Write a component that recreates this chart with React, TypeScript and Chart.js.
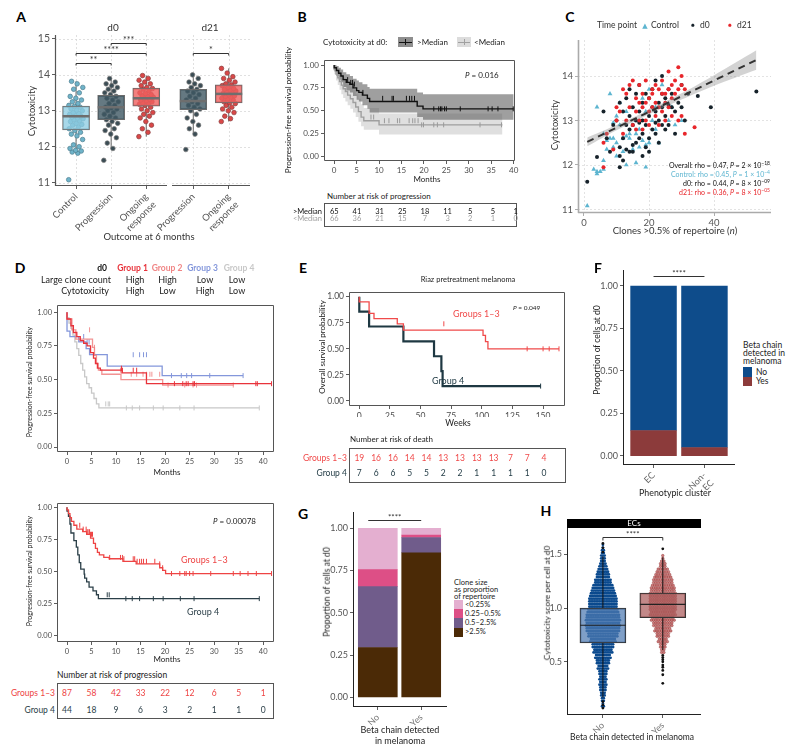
import React, { useEffect, useRef } from 'react';
import { Chart, registerables } from 'chart.js';

Chart.register(...registerables);

const FF = 'Lato, "Open Sans", "DejaVu Sans", sans-serif';
const TICK_C = '#4d4d4d';

/* ================= Panel A data ================= */
const A_D0_LABELS: any[] = ['Control', 'Progression', ['Ongoing', 'response']];
const A_D21_LABELS: any[] = ['Progression', ['Ongoing', 'response']];
const A_Y_TICKS = [11, 12, 13, 14, 15];
const A_CONTROL = [11.08, 11.82, 11.85, 11.88, 11.9, 11.95, 12.0, 12.05, 12.2, 12.3, 12.35, 12.4, 12.45, 12.5, 12.55, 12.6, 12.62, 12.65, 12.7, 12.72, 12.75, 12.78, 12.8, 12.82, 12.85, 12.88, 12.9, 12.92, 12.95, 13.0, 13.02, 13.05, 13.1, 13.12, 13.15, 13.2, 13.25, 13.3, 13.35, 13.4, 13.5, 13.6, 13.65, 13.75, 13.82];
const A_PROG_D0 = [11.62, 11.95, 12.1, 12.25, 12.35, 12.45, 12.5, 12.6, 12.65, 12.7, 12.75, 12.8, 12.85, 12.9, 12.95, 13.0, 13.05, 13.08, 13.1, 13.15, 13.2, 13.25, 13.3, 13.35, 13.4, 13.45, 13.5, 13.55, 13.6, 13.65, 13.7, 13.75, 13.8, 13.9];
const A_ONGO_D0 = [12.28, 12.4, 12.5, 12.6, 12.7, 12.8, 12.85, 12.9, 12.95, 13.0, 13.05, 13.1, 13.15, 13.18, 13.2, 13.22, 13.25, 13.28, 13.3, 13.32, 13.35, 13.38, 13.4, 13.42, 13.45, 13.48, 13.5, 13.55, 13.6, 13.62, 13.65, 13.7, 13.75, 13.8, 13.85, 13.9, 13.98];
const A_PROG_D21 = [11.92, 12.35, 12.5, 12.6, 12.7, 12.8, 12.9, 13.0, 13.05, 13.1, 13.15, 13.2, 13.25, 13.3, 13.35, 13.4, 13.45, 13.5, 13.55, 13.6, 13.65, 13.7, 13.75, 13.8, 13.9, 14.0];
const A_ONGO_D21 = [12.7, 12.78, 12.85, 12.95, 13.0, 13.05, 13.1, 13.15, 13.2, 13.22, 13.25, 13.3, 13.32, 13.35, 13.38, 13.4, 13.42, 13.45, 13.48, 13.5, 13.52, 13.55, 13.58, 13.6, 13.62, 13.65, 13.7, 13.72, 13.75, 13.8, 13.85, 13.9, 13.95, 14.05, 14.18];
// [whisker low, Q1, median, Q3, whisker high]
const A_BOX_D0 = [[11.82, 12.47, 12.85, 13.13, 13.82], [11.95, 12.75, 13.1, 13.43, 13.9], [12.28, 13.13, 13.35, 13.63, 13.98]];
const A_BOX_D21 = [[12.35, 13.03, 13.27, 13.6, 14.0], [12.7, 13.22, 13.47, 13.72, 14.18]];
const A_SIG_D0 = [{ a: 1, b: 2, y: 14.32, label: '**' }, { a: 1, b: 3, y: 14.62, label: '****' }, { a: 2, b: 3, y: 14.9, label: '***' }];
const A_SIG_D21 = [{ a: 1, b: 2, y: 14.62, label: '*' }];

/* ================= Panel B data ================= */
const B_X_TICKS = [0, 5, 10, 15, 20, 25, 30, 35, 40];
const SURV_TICKS = [0, 0.25, 0.5, 0.75, 1];
const B_HI_T = [0, 0.5, 1, 1.5, 2, 2.7, 3.5, 4.2, 5.0, 5.5, 6.3, 7.4, 7.9, 18.5, 19.8, 20.6, 40];
const B_HI_S = [1, 0.97, 0.94, 0.91, 0.88, 0.84, 0.81, 0.79, 0.75, 0.72, 0.70, 0.67, 0.635, 0.60, 0.55, 0.52, 0.52];
const B_HI_UP = [1, 1, 0.99, 0.97, 0.95, 0.92, 0.9, 0.88, 0.85, 0.83, 0.81, 0.79, 0.76, 0.74, 0.7, 0.68, 0.68];
const B_HI_LO = [1, 0.93, 0.88, 0.84, 0.81, 0.76, 0.72, 0.70, 0.66, 0.62, 0.60, 0.56, 0.52, 0.48, 0.43, 0.40, 0.40];
const B_HI_CENS = [3.0, 3.7, 4.1, 4.5, 6.4, 10.8, 12.9, 13.2, 16.1, 16.8, 17.3, 17.9, 22.2, 23.3, 23.7, 24.0, 24.6, 25.0, 28.1, 34.3, 35.2, 36.5, 39.9];
const B_LO_T = [0, 0.4, 0.8, 1.2, 1.6, 2.0, 2.5, 3.0, 3.6, 4.2, 4.8, 5.4, 6.0, 6.6, 10.0, 19.1, 37.5];
const B_LO_S = [1, 0.95, 0.90, 0.86, 0.82, 0.78, 0.74, 0.71, 0.67, 0.63, 0.59, 0.54, 0.49, 0.43, 0.39, 0.345, 0.345];
const B_LO_UP = [1, 1, 0.98, 0.95, 0.92, 0.89, 0.86, 0.83, 0.80, 0.76, 0.73, 0.68, 0.63, 0.57, 0.53, 0.47, 0.47];
const B_LO_LO = [1, 0.9, 0.83, 0.78, 0.73, 0.68, 0.64, 0.6, 0.56, 0.52, 0.48, 0.43, 0.38, 0.33, 0.29, 0.24, 0.24];
const B_LO_CENS = [8.2, 8.8, 11.2, 12.2, 14.1, 14.6, 16.7, 17.5, 18.0, 18.7, 19.5, 19.9, 22.2, 23.0, 24.4, 32.5, 37.3];
const B_RISK_HI = [65, 41, 31, 25, 18, 11, 5, 5, 1];
const B_RISK_LO = [66, 36, 21, 15, 7, 3, 2, 1, 0];

/* ================= Panel C data ================= */
const C_X_TICKS = [0, 20, 40];
const C_Y_TICKS = [11, 12, 13, 14];
const C_CONTROL = [[1, 11.08], [3, 11.9], [4, 11.85], [4, 11.8], [5, 11.85], [6, 12.1], [6, 11.9], [4, 13.3], [6, 12.7], [7, 12.55], [7, 12.35], [8, 12.6], [8, 13.6], [9, 12.4], [9, 12.6], [9, 12.95], [10, 12.5], [10, 13.1], [10, 12.2], [11, 13.4], [11, 12.9], [12, 12.6], [12, 12.3], [13, 12.0], [13, 13.2], [14, 12.6], [14, 12.7], [15, 12.9], [15, 12.35], [16, 12.05], [16, 13.0], [17, 12.4], [17, 12.8], [18, 13.5], [18, 12.55], [19, 11.95], [19, 13.2], [20, 13.7], [20, 12.5], [21, 13.0], [22, 12.8], [23, 12.5], [24, 13.8], [25, 13.4], [26, 13.0], [27, 13.3], [28, 12.9], [30, 13.0], [19, 12.45], [22, 13.3], [13, 12.65], [16, 12.7]];
const C_D0 = [[1, 11.62], [4, 12.18], [6, 13.2], [7, 12.6], [8, 12.3], [9, 12.9], [10, 13.0], [11, 11.95], [11, 12.2], [11, 12.4], [11, 13.4], [12, 12.1], [12, 12.6], [12, 13.2], [13, 12.35], [13, 12.9], [13, 13.5], [14, 12.3], [14, 12.8], [14, 13.1], [14, 13.7], [15, 12.45], [15, 12.9], [15, 13.3], [16, 12.5], [16, 13.0], [16, 13.6], [17, 12.6], [17, 13.2], [17, 13.8], [18, 12.7], [18, 13.0], [18, 13.4], [19, 12.4], [19, 12.9], [19, 13.6], [20, 12.6], [20, 13.1], [20, 13.5], [21, 12.8], [21, 13.3], [21, 13.7], [22, 12.7], [22, 13.2], [22, 13.9], [23, 13.0], [23, 13.4], [23, 12.5], [24, 12.9], [24, 13.6], [24, 14.0], [25, 13.1], [25, 13.5], [25, 12.8], [26, 12.9], [26, 13.7], [27, 13.3], [27, 13.6], [28, 12.7], [28, 13.2], [29, 13.4], [30, 13.3], [30, 13.8], [31, 13.0], [32, 13.6], [35, 13.55], [39, 13.3], [53, 13.65], [20, 12.3], [18, 12.2], [15, 12.3], [24, 13.3], [26, 13.35], [22, 12.95], [17, 12.95]];
const C_D21 = [[6, 11.95], [6, 12.5], [7, 12.7], [9, 12.35], [10, 13.3], [10, 13.0], [11, 13.2], [12, 13.7], [12, 12.7], [13, 13.6], [13, 13.0], [14, 13.8], [14, 13.3], [15, 13.9], [15, 12.9], [16, 13.5], [16, 13.2], [16, 12.8], [17, 13.8], [17, 13.4], [18, 13.3], [18, 13.6], [18, 12.8], [19, 13.4], [19, 13.0], [19, 13.9], [20, 13.5], [20, 13.2], [20, 12.9], [21, 13.3], [21, 13.7], [21, 13.6], [22, 13.8], [22, 13.4], [22, 13.1], [23, 13.7], [23, 13.3], [24, 13.9], [24, 13.6], [24, 13.2], [25, 13.6], [25, 13.4], [25, 13.0], [26, 14.1], [26, 13.7], [26, 13.3], [27, 13.8], [27, 13.5], [27, 13.1], [28, 13.6], [28, 13.9], [29, 13.0], [29, 13.7], [30, 14.0], [30, 13.8], [30, 13.1], [31, 12.7], [31, 13.7], [29, 14.2], [34, 12.85], [23, 12.9], [17, 13.0]];
const C_FIT_X = [1, 53];
const C_FIT_Y = [12.52, 14.36];
const C_BAND_X = [1, 10, 18, 30, 40, 53];
const C_BAND_LO = [12.42, 12.78, 13.07, 13.47, 13.78, 14.14];
const C_BAND_HI = [12.62, 12.9, 13.17, 13.61, 14.02, 14.58];

/* ================= Panel D data ================= */
const D_X_TICKS = [0, 5, 10, 15, 20, 25, 30, 35, 40];
const D_G1_T = [0, 0.8, 1.3, 2.0, 2.7, 3.4, 4.1, 4.8, 5.4, 5.8, 6.2, 6.8, 11.2, 16.2, 19.6, 41.7];
const D_G1_S = [1, 0.95, 0.9, 0.85, 0.82, 0.79, 0.77, 0.75, 0.7, 0.66, 0.62, 0.585, 0.57, 0.55, 0.47, 0.47];
const D_G1_C = [11.1, 11.3, 13.5, 14.2, 21.9, 23.6, 24.3, 24.7, 25.7, 26.0, 38.5, 38.8, 41.7];
const D_G2_T = [0, 1.0, 1.8, 5.2, 5.6, 6.0, 6.4, 7.1, 11.0, 19.5, 20.2, 34];
const D_G2_S = [1, 0.95, 0.87, 0.80, 0.74, 0.68, 0.62, 0.57, 0.54, 0.5, 0.46, 0.46];
const D_G2_C = [4.6, 5.6, 10.9, 13.1, 14.2, 15.5, 16.2, 16.9, 17.3, 18.9, 20.6, 24.0, 25.7, 26.4, 33.9];
const D_G3_T = [0, 0.6, 2.4, 3.9, 4.6, 8.2, 19.4, 20.1, 35.9];
const D_G3_S = [1, 0.86, 0.82, 0.78, 0.73, 0.685, 0.6, 0.53, 0.53];
const D_G3_C = [3.4, 4.1, 4.5, 13.5, 14.8, 15.6, 16.2, 21.3, 23.3, 24.4, 25.4, 29.1, 35.9];
const D_G4_T = [0, 0.4, 0.8, 1.2, 1.6, 2.0, 2.4, 2.8, 3.2, 3.6, 4.0, 4.5, 5.0, 5.5, 6.0, 6.5, 8.9, 39.2];
const D_G4_S = [1, 0.96, 0.92, 0.88, 0.83, 0.78, 0.73, 0.68, 0.62, 0.57, 0.52, 0.47, 0.44, 0.40, 0.36, 0.32, 0.29, 0.29];
const D_G4_C = [7.9, 8.4, 8.7, 12.1, 13.3, 14.8, 17.6, 19.6, 23.0, 25.9, 39.2];
const D_G13_T = [0, 0.3, 0.6, 0.9, 1.4, 2.0, 3.2, 4.0, 4.8, 5.4, 5.8, 6.2, 6.6, 7.5, 8.6, 11.4, 14.1, 18.9, 19.5, 20.1, 20.7, 41.7];
const D_G13_S = [1, 0.98, 0.95, 0.92, 0.89, 0.86, 0.83, 0.81, 0.79, 0.76, 0.72, 0.68, 0.65, 0.63, 0.61, 0.60, 0.58, 0.56, 0.53, 0.51, 0.485, 0.485];
const D_G13_C = [2.6, 3.3, 3.9, 4.1, 4.3, 4.6, 4.8, 5.0, 5.2, 8.7, 10.9, 11.3, 11.6, 13.5, 13.8, 14.3, 14.8, 15.2, 15.6, 16.2, 17.9, 18.9, 19.5, 21.3, 23.0, 24.0, 24.3, 25.0, 25.7, 29.3, 33.9, 35.3, 36.9, 38.6, 41.7];
const D_G4B_T = [0, 0.3, 0.6, 0.8, 1.4, 1.9, 2.2, 2.5, 2.8, 3.5, 3.6, 4.0, 4.5, 5.3, 6.0, 6.4, 8.8, 39.2];
const D_G4B_S = [1, 0.97, 0.93, 0.87, 0.8, 0.74, 0.69, 0.63, 0.57, 0.52, 0.48, 0.45, 0.42, 0.38, 0.35, 0.32, 0.29, 0.29];
const D_G4B_C = [8.2, 8.6, 12.0, 13.3, 14.8, 17.6, 19.6, 23.1, 25.9, 39.2];
const D_RISK_G13 = [87, 58, 42, 33, 22, 12, 6, 5, 1];
const D_RISK_G4 = [44, 18, 9, 6, 3, 2, 1, 1, 0];
const D_GROUPS = ['Group 1', 'Group 2', 'Group 3', 'Group 4'];
const D_CLONE = ['High', 'High', 'Low', 'Low'];
const D_CYTO = ['High', 'Low', 'High', 'Low'];

/* ================= Panel E data ================= */
const E_X_TICKS = [0, 25, 50, 75, 100, 125, 150];
const E_G13_T = [0, 8, 12, 31, 36, 101, 103, 105, 120, 163];
const E_G13_S = [1, 0.95, 0.84, 0.79, 0.74, 0.68, 0.63, 0.57, 0.50, 0.50];
const E_G13_C = [69, 137, 150, 155, 163];
const E_G4_T = [0, 8, 36, 61, 67, 68, 92, 148];
const E_G4_S = [1, 0.857, 0.714, 0.571, 0.429, 0.286, 0.143, 0.143];
const E_G4_C = [148];
const E_RISK_G13 = [19, 16, 16, 14, 14, 13, 13, 13, 13, 7, 7, 4];
const E_RISK_G4 = [7, 6, 6, 5, 5, 2, 2, 1, 1, 1, 1, 0];

/* ================= Panel F data ================= */
const F_LABELS: any[] = ['EC', ['Non-', 'EC']];
const F_YES = [0.15, 0.05];
const F_NO = [0.85, 0.95];

/* ================= Panel G data ================= */
const G_LABELS: any[] = ['No', 'Yes'];
const G_GT25 = [0.295, 0.855];
const G_05_25 = [0.36, 0.09];
const G_025_05 = [0.10, 0.015];
const G_LT025 = [0.245, 0.04];
const G_KEYS = ['<0.25%', '0.25\u20130.5%', '0.5\u20132.5%', '>2.5%'];

/* ================= Panel H data ================= */
const H_LABELS: any[] = ['No', 'Yes'];
const H_Y_TICKS = [0.5, 1.0, 1.5];
const H_NO_BINS = [0.10, 0.15, 0.20, 0.25, 0.30, 0.35, 0.40, 0.45, 0.50, 0.55, 0.60, 0.65, 0.70, 0.75, 0.80, 0.85, 0.90, 0.95, 1.00, 1.05, 1.10, 1.15, 1.20, 1.25, 1.30, 1.35, 1.40, 1.45, 1.50, 1.55, 1.60];
const H_NO_COUNTS = [3, 4, 6, 8, 9, 9, 10, 13, 16, 19, 23, 26, 31, 36, 40, 41, 41, 39, 35, 34, 33, 29, 25, 20, 16, 13, 9, 6, 5, 3, 1];
const H_YES_BINS = [0.60, 0.65, 0.70, 0.75, 0.80, 0.85, 0.90, 0.95, 1.00, 1.05, 1.10, 1.15, 1.20, 1.25, 1.30, 1.35, 1.40, 1.45, 1.50];
const H_YES_COUNTS = [4, 6, 9, 12, 15, 18, 21, 23, 24, 24, 24, 23, 21, 18, 15, 11, 6, 3, 1];
const H_NO_OUT = [0.07, 0.1, 0.13, 1.52, 1.56, 1.6];
const H_YES_OUT = [0.30, 0.38, 0.42, 0.45, 0.47, 0.5, 0.52, 0.54, 0.56, 1.55];
const H_BOX = [[0.17, 0.675, 0.84, 1.0, 1.48], [0.61, 0.91, 1.035, 1.14, 1.47]];

/* ================= layout rects ================= */
const A0_C = { x: 0, y: 30, w: 172, h: 210 }, A0_P = { l: 55, t: 35, r: 168, b: 186 };
const A1_C = { x: 110, y: 30, w: 145, h: 210 }, A1_P = { l: 172, t: 35, r: 250, b: 186 };
const A_Y = { min: 10.905, max: 15.11 };
const B_C = { x: 270, y: 55, w: 250, h: 130 }, B_P = { l: 324, t: 60, r: 517, b: 161 };
const B_X = { min: -2.27, max: 40.3 }, B_Y = { min: -0.051, max: 1.055 };
const C_C = { x: 548, y: 35, w: 227, h: 193 }, C_P = { l: 578, t: 40, r: 772, b: 213 };
const C_X = { min: -1.84, max: 57.5 }, C_Y = { min: 10.92, max: 14.81 };
const D1_C = { x: 0, y: 300, w: 280, h: 168 }, D1_P = { l: 57, t: 305, r: 274, b: 452 };
const D2_C = { x: 0, y: 498, w: 280, h: 158 }, D2_P = { l: 57, t: 503, r: 274, b: 642 };
const D_X = { min: -2.04, max: 42.2 }, D1_Y = { min: -0.037, max: 1.054 }, D2_Y = { min: -0.047, max: 1.033 };
const E_C = { x: 290, y: 287, w: 280, h: 130 }, E_P = { l: 349, t: 292, r: 566, b: 406 };
const E_X = { min: -8.4, max: 167.9 }, E_Y = { min: -0.048, max: 1.045 };
const F_C = { x: 590, y: 265, w: 150, h: 225 }, F_P = { l: 623, t: 270, r: 735, b: 465 };
const F_X = { min: 0.4, max: 2.6 }, F_Y = { min: -0.053, max: 1.094 };
const G_C = { x: 320, y: 507, w: 132, h: 218 }, G_P = { l: 353, t: 512, r: 447, b: 707 };
const G_X = { min: 0.429, max: 2.594 }, G_Y = { min: -0.057, max: 1.096 };
const H_C = { x: 535, y: 523, w: 170, h: 210 }, H_P = { l: 567, t: 528, r: 701, b: 715 };
const H_X = { min: 0.4, max: 2.63 }, H_Y = { min: 0.006, max: 1.744 };

/* ================= helpers ================= */
const lin = (v: number, a0: number, a1: number, p0: number, p1: number) => p0 + ((v - a0) / (a1 - a0)) * (p1 - p0);

function axis(min: number, max: number, ticks: number[], fmt: (v: number) => any, o: any = {}) {
  const marks = o.marks !== false;
  return {
    type: 'linear', min, max, bounds: 'data', offset: false, beginAtZero: false,
    grid: { display: marks, offset: false, drawOnChartArea: false, drawTicks: marks, tickLength: o.tickLen ?? 3, color: o.tickColor ?? '#333', lineWidth: 0.8 },
    border: { display: false },
    ticks: {
      display: o.labels !== false, autoSkip: false, minRotation: o.rot ?? 0, maxRotation: o.rot ?? 0,
      padding: o.pad ?? 2, color: o.color ?? TICK_C, font: { family: FF, size: o.size ?? 8 },
      callback: (v: number) => fmt(v),
    },
    afterBuildTicks: (s: any) => { s.ticks = ticks.map((v) => ({ value: v })); },
  };
}
const fix = (kind: string, size: number) => (s: any) => {
  if (kind === 'x') s.height = size; else s.width = size;
  s.paddingLeft = 0; s.paddingRight = 0; s.paddingTop = 0; s.paddingBottom = 0;
};
const catFmt = (labels: any[]) => (v: number) => labels[Math.round(v) - 1] ?? '';

function deco(o: any) {
  return {
    id: 'deco',
    beforeDatasetsDraw(chart: any) {
      const { ctx, chartArea: ca, scales } = chart;
      if (!o.grid) return;
      ctx.save();
      ctx.strokeStyle = o.grid.color || '#d9d9d9';
      ctx.lineWidth = 0.8;
      ctx.setLineDash([2, 2]);
      (o.grid.xs || []).forEach((v: number) => {
        const p = Math.round(scales.x.getPixelForValue(v)) + 0.5;
        ctx.beginPath(); ctx.moveTo(p, ca.top); ctx.lineTo(p, ca.bottom); ctx.stroke();
      });
      (o.grid.ys || []).forEach((v: number) => {
        const p = Math.round(scales.y.getPixelForValue(v)) + 0.5;
        ctx.beginPath(); ctx.moveTo(ca.left, p); ctx.lineTo(ca.right, p); ctx.stroke();
      });
      ctx.restore();
    },
    afterDatasetsDraw(chart: any) {
      const { ctx, chartArea: ca, scales } = chart;
      ctx.save();
      if (o.frame) {
        ctx.strokeStyle = o.frameColor || '#4d4d4d';
        ctx.lineWidth = o.frameWidth || 1;
        const L = Math.round(ca.left) + 0.5, R = Math.round(ca.right) - 0.5, Tp = Math.round(ca.top) + 0.5, B = Math.round(ca.bottom) - 0.5;
        ctx.beginPath();
        if (o.frame === 'box') ctx.rect(L, Tp, R - L, B - Tp);
        else {
          if (o.frame.includes('l')) { ctx.moveTo(L, Tp - 0.5); ctx.lineTo(L, B + 0.5); }
          if (o.frame.includes('b')) { ctx.moveTo(L - 0.5, B); ctx.lineTo(R + 0.5, B); }
        }
        ctx.stroke();
      }
      (o.brackets || []).forEach((b: any) => {
        const x1 = scales.x.getPixelForValue(b.a), x2 = scales.x.getPixelForValue(b.b);
        const py = Math.round(scales.y.getPixelForValue(b.y)) + 0.5;
        const drop = o.drop ?? 0;
        ctx.strokeStyle = '#333'; ctx.lineWidth = 1; ctx.setLineDash([]);
        ctx.beginPath(); ctx.moveTo(x1, py + drop); ctx.lineTo(x1, py); ctx.lineTo(x2, py); ctx.lineTo(x2, py + drop); ctx.stroke();
        ctx.fillStyle = '#333'; ctx.font = `${o.starSize || 8}px ${FF}`; ctx.textAlign = 'center'; ctx.textBaseline = 'middle';
        ctx.fillText(b.label, (x1 + x2) / 2, py + (o.raise ?? -1));
      });
      ctx.restore();
    },
  };
}

function cfg(canvas: any, plot: any, x: any, y: any, datasets: any[], decoOpts: any) {
  return {
    type: 'scatter',
    data: { datasets },
    options: {
      responsive: false, maintainAspectRatio: false, animation: false, devicePixelRatio: 1, events: [],
      layout: { padding: { top: plot.t - canvas.y, right: canvas.x + canvas.w - plot.r, left: 0, bottom: 0 } },
      plugins: { legend: { display: false }, tooltip: { enabled: false } },
      scales: {
        x: { ...x, afterFit: fix('x', canvas.y + canvas.h - plot.b) },
        y: { ...y, afterFit: fix('y', plot.l - canvas.x) },
      },
    },
    plugins: [deco(decoOpts)],
  };
}

function survAt(ts: number[], ss: number[], t: number) {
  let s = ss[0];
  for (let i = 0; i < ts.length; i++) if (ts[i] <= t) s = ss[i];
  return s;
}
function kmLine(ts: number[], ss: number[], color: string, w: number, order: number) {
  return { type: 'line', data: ts.map((t, i) => ({ x: t, y: ss[i] })), stepped: 'after', borderColor: color, borderWidth: w, pointRadius: 0, fill: false, order };
}
function kmCens(ts: number[], ss: number[], cs: number[], color: string, order: number, r = 2.5) {
  return {
    type: 'scatter', data: cs.map((t) => ({ x: t, y: survAt(ts, ss, t) })), pointStyle: 'line', pointRotation: 90,
    pointRadius: r, pointBorderColor: color, pointBorderWidth: 1, borderColor: color, order,
  };
}
function kmBand(ts: number[], hi: number[], lo: number[], color: string, order: number) {
  return [
    { type: 'line', data: ts.map((t, i) => ({ x: t, y: hi[i] })), stepped: 'after', borderColor: 'transparent', borderWidth: 0, pointRadius: 0, fill: '+1', backgroundColor: color, order },
    { type: 'line', data: ts.map((t, i) => ({ x: t, y: lo[i] })), stepped: 'after', borderColor: 'transparent', borderWidth: 0, pointRadius: 0, fill: false, order },
  ];
}
function boxSets(boxes: number[][], fills: string[], barPx: number, halfW: number, medColor: string, medW: number, border: string, whisk: string) {
  const ds: any[] = [];
  boxes.forEach((b, i) => {
    ds.push({ type: 'line', data: [{ x: i + 1 - halfW, y: b[2] }, { x: i + 1 + halfW, y: b[2] }], borderColor: medColor, borderWidth: medW, pointRadius: 0, order: 0 });
  });
  ds.push({
    type: 'bar', data: boxes.map((b, i) => ({ x: i + 1, y: [b[1], b[3]] })), backgroundColor: fills, borderColor: border,
    borderWidth: 1, borderSkipped: false, barThickness: barPx, grouped: false, order: 1,
  });
  boxes.forEach((b, i) => {
    ds.push({ type: 'line', data: [{ x: i + 1, y: b[0] }, { x: i + 1, y: b[1] }], borderColor: whisk, borderWidth: 1, pointRadius: 0, order: 2.5 });
    ds.push({ type: 'line', data: [{ x: i + 1, y: b[3] }, { x: i + 1, y: b[4] }], borderColor: whisk, borderWidth: 1, pointRadius: 0, order: 2.5 });
  });
  return ds;
}
function jitterPts(cx: number, vals: number[], spread: number) {
  return vals.map((v, k) => ({ x: cx + (((k * 0.618034) % 1) - 0.5) * spread, y: v }));
}
function swarm(cx: number, bins: number[], counts: number[], dx: number, dy: number) {
  const pts: any[] = [];
  bins.forEach((v, j) => {
    const n = counts[j];
    const r1 = Math.ceil(n / 2), r2 = n - r1;
    [r1, r2].forEach((k, rr) => {
      for (let m = 0; m < k; m++) pts.push({ x: cx + (m - (k - 1) / 2) * dx, y: v + (rr === 0 ? -dy : dy) });
    });
  });
  return pts;
}

/* ================= chart factories ================= */
const A_FILL = ['rgba(142,205,227,0.78)', 'rgba(62,88,99,0.8)', 'rgba(240,96,95,0.8)'];
const A_PT_BG = ['#6fb3c9', '#3b4d55', '#d94848'];
const A_PT_BC = ['#4d7e8f', '#7a7a7a', '#8a4040'];

function makeA0() {
  const pxu = (A0_P.r - A0_P.l) / (3.6 - 0.4);
  const groups = [A_CONTROL, A_PROG_D0, A_ONGO_D0];
  const pts = groups.map((g, i) => ({
    type: 'scatter', data: jitterPts(i + 1, g, 0.42), pointRadius: 2.3, pointBackgroundColor: A_PT_BG[i], pointBorderColor: A_PT_BC[i], pointBorderWidth: 0.7, order: 2,
  }));
  return cfg(A0_C, A0_P,
    axis(0.4, 3.6, [1, 2, 3], catFmt(A_D0_LABELS), { rot: 45, size: 9.5, color: '#555' }),
    axis(A_Y.min, A_Y.max, A_Y_TICKS, (v) => String(v), { size: 10.5, color: '#555' }),
    [...boxSets(A_BOX_D0, A_FILL, 27, 13.5 / pxu, '#6e6e6e', 2.5, '#6a6a6a', '#666'), ...pts],
    { grid: { xs: [1, 2, 3], ys: A_Y_TICKS }, frame: 'lb', frameColor: '#555', frameWidth: 1.2, brackets: A_SIG_D0, drop: 2, starSize: 9, raise: -3 });
}
function makeA1() {
  const pxu = (A1_P.r - A1_P.l) / (2.6 - 0.4);
  const groups = [A_PROG_D21, A_ONGO_D21];
  const pts = groups.map((g, i) => ({
    type: 'scatter', data: jitterPts(i + 1, g, 0.42), pointRadius: 2.3, pointBackgroundColor: A_PT_BG[i + 1], pointBorderColor: A_PT_BC[i + 1], pointBorderWidth: 0.7, order: 2,
  }));
  return cfg(A1_C, A1_P,
    axis(0.4, 2.6, [1, 2], catFmt(A_D21_LABELS), { rot: 45, size: 9.5, color: '#555' }),
    axis(A_Y.min, A_Y.max, A_Y_TICKS, () => '', { labels: false, marks: false }),
    [...boxSets(A_BOX_D21, A_FILL.slice(1), 27, 13.5 / pxu, '#6e6e6e', 2.5, '#6a6a6a', '#666'), ...pts],
    { grid: { xs: [1, 2], ys: A_Y_TICKS }, frame: 'b', frameColor: '#555', frameWidth: 1.2, brackets: A_SIG_D21, drop: 2, starSize: 9, raise: -3 });
}
function makeB() {
  return cfg(B_C, B_P,
    axis(B_X.min, B_X.max, B_X_TICKS, (v) => String(v), { size: 8 }),
    axis(B_Y.min, B_Y.max, SURV_TICKS, (v) => v.toFixed(2), { size: 8 }),
    [
      kmCens(B_HI_T, B_HI_S, B_HI_CENS, '#111', 0),
      kmCens(B_LO_T, B_LO_S, B_LO_CENS, '#9a9a9a', 0.5),
      kmLine(B_HI_T, B_HI_S, '#111', 1.4, 1),
      kmLine(B_LO_T, B_LO_S, '#9f9f9f', 1.4, 1.5),
      ...kmBand(B_HI_T, B_HI_UP, B_HI_LO, 'rgba(95,95,95,0.6)', 5),
      ...kmBand(B_LO_T, B_LO_UP, B_LO_LO, 'rgba(185,185,185,0.45)', 6),
    ],
    { frame: 'box', frameColor: '#555' });
}
function makeC() {
  const xy = (arr: number[][]) => arr.map((p) => ({ x: p[0], y: p[1] }));
  return cfg(C_C, C_P,
    axis(C_X.min, C_X.max, C_X_TICKS, (v) => String(v), { size: 9.5, pad: 1, color: '#555', tickColor: '#999' }),
    axis(C_Y.min, C_Y.max, C_Y_TICKS, (v) => String(v), { size: 9.5, color: '#555', tickColor: '#999' }),
    [
      { type: 'line', data: C_FIT_X.map((x, i) => ({ x, y: C_FIT_Y[i] })), borderColor: '#333', borderWidth: 2, borderDash: [7, 5], pointRadius: 0, order: 0 },
      { type: 'line', data: C_BAND_X.map((x, i) => ({ x, y: C_BAND_HI[i] })), borderColor: 'transparent', borderWidth: 0, pointRadius: 0, fill: '+1', backgroundColor: 'rgba(140,140,140,0.38)', tension: 0.3, order: 1 },
      { type: 'line', data: C_BAND_X.map((x, i) => ({ x, y: C_BAND_LO[i] })), borderColor: 'transparent', borderWidth: 0, pointRadius: 0, fill: false, tension: 0.3, order: 1 },
      { type: 'scatter', data: xy(C_D21), pointRadius: 2, pointBackgroundColor: '#e8262b', pointBorderWidth: 0, order: 2 },
      { type: 'scatter', data: xy(C_D0), pointRadius: 2, pointBackgroundColor: '#16222a', pointBorderWidth: 0, order: 3 },
      { type: 'scatter', data: xy(C_CONTROL), pointStyle: 'triangle', pointRadius: 2.8, pointBackgroundColor: '#5db5d0', pointBorderWidth: 0, order: 4 },
    ],
    { grid: { xs: C_X_TICKS, ys: C_Y_TICKS, color: '#dcdcdc' }, frame: 'lb', frameColor: '#aaa', frameWidth: 1.6 });
}
function makeD1() {
  return cfg(D1_C, D1_P,
    axis(D_X.min, D_X.max, D_X_TICKS, (v) => String(v), { size: 7.5 }),
    axis(D1_Y.min, D1_Y.max, SURV_TICKS, (v) => v.toFixed(2), { size: 7.5 }),
    [
      kmCens(D_G1_T, D_G1_S, D_G1_C, '#e8333b', 0),
      kmLine(D_G1_T, D_G1_S, '#e8333b', 1.3, 0.5),
      kmCens(D_G2_T, D_G2_S, D_G2_C, 'rgba(240,128,128,0.85)', 1),
      kmLine(D_G2_T, D_G2_S, 'rgba(240,128,128,0.85)', 1.3, 1.5),
      kmCens(D_G3_T, D_G3_S, D_G3_C, '#8497db', 2),
      kmLine(D_G3_T, D_G3_S, '#8497db', 1.3, 2.5),
      kmCens(D_G4_T, D_G4_S, D_G4_C, '#c8c8c8', 3),
      kmLine(D_G4_T, D_G4_S, '#c8c8c8', 1.3, 3.5),
    ],
    { frame: 'box', frameColor: '#555' });
}
function makeD2() {
  return cfg(D2_C, D2_P,
    axis(D_X.min, D_X.max, D_X_TICKS, (v) => String(v), { size: 7.5 }),
    axis(D2_Y.min, D2_Y.max, SURV_TICKS, (v) => v.toFixed(2), { size: 7.5 }),
    [
      kmCens(D_G13_T, D_G13_S, D_G13_C, '#ee4444', 0),
      kmLine(D_G13_T, D_G13_S, '#ee4444', 1.3, 0.5),
      kmCens(D_G4B_T, D_G4B_S, D_G4B_C, '#2b3f48', 1),
      kmLine(D_G4B_T, D_G4B_S, '#2b3f48', 1.3, 1.5),
    ],
    { frame: 'box', frameColor: '#555' });
}
function makeE() {
  return cfg(E_C, E_P,
    axis(E_X.min, E_X.max, E_X_TICKS, (v) => String(v), { size: 8.5 }),
    axis(E_Y.min, E_Y.max, SURV_TICKS, (v) => v.toFixed(2), { size: 8.5 }),
    [
      kmCens(E_G13_T, E_G13_S, E_G13_C, '#f04a4a', 0),
      kmLine(E_G13_T, E_G13_S, '#f04a4a', 1.3, 0.5),
      kmCens(E_G4_T, E_G4_S, E_G4_C, '#1e3842', 1),
      kmLine(E_G4_T, E_G4_S, '#1e3842', 2.2, 1.5),
    ],
    { frame: 'box', frameColor: '#555' });
}
function makeF() {
  return cfg(F_C, F_P,
    axis(F_X.min, F_X.max, [1, 2], catFmt(F_LABELS), { rot: 45, size: 9, color: '#666' }),
    axis(F_Y.min, F_Y.max, SURV_TICKS, (v) => v.toFixed(2), { size: 9, color: '#555' }),
    [
      { type: 'bar', data: F_YES.map((v, i) => ({ x: i + 1, y: [0, v] })), backgroundColor: '#8c3b3b', barThickness: 45.8, grouped: false, borderSkipped: false, borderWidth: 0 },
      { type: 'bar', data: F_NO.map((v, i) => ({ x: i + 1, y: [F_YES[i], F_YES[i] + v] })), backgroundColor: '#0e4c8b', barThickness: 45.8, grouped: false, borderSkipped: false, borderWidth: 0 },
    ],
    { frame: 'lb', frameColor: '#222', frameWidth: 1, brackets: [{ a: 1, b: 2, y: 1.059, label: '****' }], drop: 0, starSize: 8, raise: -3 });
}
function makeG() {
  const series = [G_GT25, G_05_25, G_025_05, G_LT025];
  const colors = ['#4b2a06', '#705c8b', '#dd4f86', '#e4afd0'];
  const ds = series.map((s, k) => ({
    type: 'bar',
    data: s.map((v, i) => {
      const lo = series.slice(0, k).reduce((acc, ss) => acc + ss[i], 0);
      return { x: i + 1, y: [lo, lo + v] };
    }),
    backgroundColor: colors[k], barThickness: 39, grouped: false, borderSkipped: false, borderWidth: 0,
  }));
  return cfg(G_C, G_P,
    axis(G_X.min, G_X.max, [1, 2], catFmt(G_LABELS), { rot: 45, size: 9, color: '#777' }),
    axis(G_Y.min, G_Y.max, SURV_TICKS, (v) => v.toFixed(2), { size: 9, color: '#555' }),
    ds,
    { frame: 'lb', frameColor: '#222', frameWidth: 1, brackets: [{ a: 0.78, b: 2.0, y: 1.049, label: '****' }], drop: 0, starSize: 8, raise: -3 });
}
function makeH() {
  const pxu = (H_P.r - H_P.l) / (H_X.max - H_X.min);
  return cfg(H_C, H_P,
    axis(H_X.min, H_X.max, [1, 2], catFmt(H_LABELS), { rot: 45, size: 9, color: '#777' }),
    axis(H_Y.min, H_Y.max, H_Y_TICKS, (v) => v.toFixed(1), { size: 9, color: '#555' }),
    [
      ...boxSets(H_BOX, ['rgba(78,122,178,0.72)', 'rgba(170,92,92,0.72)'], 46, 23 / pxu, '#222', 1.2, '#333', '#111'),
      { type: 'scatter', data: [...H_NO_OUT.map((v) => ({ x: 1, y: v })), ...H_YES_OUT.map((v) => ({ x: 2, y: v }))], pointRadius: 1.4, pointBackgroundColor: '#111', pointBorderWidth: 0, order: 2 },
      { type: 'scatter', data: swarm(1, H_NO_BINS, H_NO_COUNTS, 1.7 / pxu, 0.0125), pointRadius: 1.4, pointBackgroundColor: '#0b4a8e', pointBorderWidth: 0, order: 3 },
      { type: 'scatter', data: swarm(2, H_YES_BINS, H_YES_COUNTS, 2.3 / pxu, 0.0125), pointRadius: 1.3, pointBackgroundColor: 'rgba(200,105,105,0.85)', pointBorderColor: 'rgba(140,50,50,0.85)', pointBorderWidth: 0.5, order: 4 },
    ],
    { frame: 'lb', frameColor: '#222', frameWidth: 1, brackets: [{ a: 1, b: 2, y: 1.66, label: '****' }], drop: 3, starSize: 8, raise: -3 });
}

/* ================= React pieces ================= */
function ChartBox({ rect, make }: any) {
  const ref = useRef<HTMLCanvasElement | null>(null);
  useEffect(() => {
    const c = ref.current;
    if (!c) return;
    const chart = new Chart(c, make());
    return () => chart.destroy();
  }, []);
  return <canvas ref={ref} width={rect.w} height={rect.h} style={{ position: 'absolute', left: rect.x, top: rect.y, width: rect.w, height: rect.h }} />;
}

function T({ x, y, s = 8, c = '#333', a = 'start', b = false, r = 0, i = false, children, lh = 1 }: any) {
  const tx = a === 'start' ? '0' : a === 'middle' ? '-50%' : '-100%';
  return (
    <div style={{
      position: 'absolute', left: x, top: y, transform: `translate(${tx}, -50%)${r ? ` rotate(${r}deg)` : ''}`,
      fontFamily: FF, fontSize: s, color: c, fontWeight: b ? 700 : 400, fontStyle: i ? 'italic' : 'normal',
      whiteSpace: 'nowrap', lineHeight: lh, textAlign: a === 'end' ? 'right' : a === 'middle' ? 'center' : 'left',
    }}>{children}</div>
  );
}
const Box = ({ x, y, w, h, bg, border }: any) => (
  <div style={{ position: 'absolute', left: x, top: y, width: w, height: h, background: bg || 'transparent', border: border || 'none', boxSizing: 'border-box' }} />
);

function RiskTable({ box, rowY, labels, colors, rows, xs, size }: any) {
  return (
    <>
      <Box x={box.l} y={box.t} w={box.r - box.l} h={box.b - box.t} border="1px solid #555" />
      {rows.map((row: number[], ri: number) => (
        <React.Fragment key={ri}>
          <T x={box.l - 2} y={rowY[ri]} a="end" s={size} c={colors[ri]}>{labels[ri]}</T>
          {row.map((v, ci) => <T key={ci} x={xs[ci]} y={rowY[ri]} a="middle" s={size} c={colors[ri]}>{v}</T>)}
        </React.Fragment>
      ))}
    </>
  );
}

export default function App() {
  useEffect(() => { document.body.style.margin = '0'; }, []);
  const bXs = B_X_TICKS.map((m) => lin(m, B_X.min, B_X.max, B_P.l, B_P.r));
  const dXs = D_X_TICKS.map((m) => lin(m, D_X.min, D_X.max, D1_P.l, D1_P.r));
  const eXs = E_RISK_G13.map((_, i) => lin((i * 150) / 11, E_X.min, E_X.max, E_P.l, E_P.r));
  const dCenters = [132.5, 167, 202.5, 239];
  const dVals = [135, 167.5, 205, 237];
  const dColors = ['#e8333b', '#f08585', '#8497db', '#c8c8c8'];
  const gColors = ['#e4afd0', '#dd4f86', '#705c8b', '#4b2a06'];
  return (
    <div style={{ position: 'absolute', left: 0, top: 0, width: 800, height: 753, background: '#fff', overflow: 'hidden', fontFamily: FF }}>
      <ChartBox rect={A0_C} make={makeA0} />
      <ChartBox rect={A1_C} make={makeA1} />
      <ChartBox rect={B_C} make={makeB} />
      <ChartBox rect={C_C} make={makeC} />
      <ChartBox rect={D1_C} make={makeD1} />
      <ChartBox rect={D2_C} make={makeD2} />
      <ChartBox rect={E_C} make={makeE} />
      <ChartBox rect={F_C} make={makeF} />
      <ChartBox rect={G_C} make={makeG} />
      <ChartBox rect={H_C} make={makeH} />

      {/* panel letters */}
      <T x={21} y={17} a="middle" s={14} b c="#000">A</T>
      <T x={302} y={17} a="middle" s={14} b c="#000">B</T>
      <T x={570} y={17} a="middle" s={14} b c="#000">C</T>
      <T x={20} y={268} a="middle" s={14} b c="#000">D</T>
      <T x={303} y={268} a="middle" s={14} b c="#000">E</T>
      <T x={598} y={268} a="middle" s={14} b c="#000">F</T>
      <T x={303} y={514} a="middle" s={14} b c="#000">G</T>
      <T x={546} y={511} a="middle" s={14} b c="#000">H</T>

      {/* A */}
      <T x={113} y={27} a="middle" s={10} c="#333">d0</T>
      <T x={210} y={27} a="middle" s={10} c="#333">d21</T>
      <T x={32} y={111} a="middle" r={-90} s={9.5} c="#333">Cytotoxicity</T>
      <T x={149} y={237} a="middle" s={9.5} c="#333">Outcome at 6 months</T>

      {/* B */}
      <T x={323} y={42} s={8} c="#222">Cytotoxicity at d0:</T>
      <Box x={398} y={37} w={15} h={10} bg="#8e8e8e" />
      <Box x={399} y={41.5} w={13} h={1.5} bg="#111" />
      <Box x={405} y={39} w={1} h={6} bg="#111" />
      <T x={417} y={42} s={8} c="#222">{'>Median'}</T>
      <Box x={457} y={37} w={14} h={10} bg="#dcdcdc" />
      <Box x={458} y={41.5} w={12} h={1.5} bg="#a0a0a0" />
      <Box x={463.5} y={39} w={1} h={6} bg="#a0a0a0" />
      <T x={474} y={42} s={8} c="#222">{'<Median'}</T>
      <T x={465} y={75} s={8} c="#222"><i>P</i> = 0.016</T>
      <T x={288} y={110} a="middle" r={-90} s={8} c="#222">Progression-free survival probability</T>
      <T x={427} y={179} a="middle" s={8} c="#222">Months</T>
      <T x={327} y={196} s={8} c="#222">Number at risk of progression</T>
      <RiskTable box={{ l: 324, t: 203, r: 517, b: 227 }} rowY={[212, 219]} labels={['>Median', '<Median']} colors={['#111', '#a0a0a0']} rows={[B_RISK_HI, B_RISK_LO]} xs={bXs} size={7.5} />

      {/* C */}
      <T x={597} y={25} s={8.5} c="#333">Time point</T>
      <T x={645} y={25} a="middle" s={7} c="#5db5d0">{'\u25B2'}</T>
      <T x={651} y={25} s={8.5} c="#333">Control</T>
      <T x={693} y={25} a="middle" s={6.5} c="#16222a">{'\u25CF'}</T>
      <T x={700} y={25} s={8.5} c="#333">d0</T>
      <T x={730} y={25} a="middle" s={6.5} c="#e8262b">{'\u25CF'}</T>
      <T x={737} y={25} s={8.5} c="#333">d21</T>
      <T x={555} y={125} a="middle" r={-90} s={9.5} c="#333">Cytotoxicity</T>
      <T x={675} y={231} a="middle" s={9.5} c="#333">{'Clones >0.5% of repertoire ('}<i>n</i>)</T>
      <T x={770} y={165} a="end" s={7} c="#111">Overall: rho = 0.47, <i>P</i> = 2 × 10<sup style={{ fontSize: 5 }}>−18</sup></T>
      <T x={770} y={173.5} a="end" s={7} c="#5db5d0">Control: rho = 0.45, <i>P</i> = 1 × 10<sup style={{ fontSize: 5 }}>−4</sup></T>
      <T x={770} y={182.5} a="end" s={7} c="#111">d0: rho = 0.44, <i>P</i> = 8 × 10<sup style={{ fontSize: 5 }}>−09</sup></T>
      <T x={770} y={191.5} a="end" s={7} c="#e8262b">d21: rho = 0.36, <i>P</i> = 8 × 10<sup style={{ fontSize: 5 }}>−05</sup></T>

      {/* D header */}
      <T x={107} y={268} a="end" s={8.5} b c="#111">d0</T>
      {D_GROUPS.map((g, i) => <T key={g} x={dCenters[i]} y={268} a="middle" s={8.5} b c={dColors[i]}>{g}</T>)}
      <T x={111} y={279} a="end" s={9} c="#222">Large clone count</T>
      <T x={109} y={290} a="end" s={9} c="#222">Cytotoxicity</T>
      {D_CLONE.map((v, i) => <T key={'c' + i} x={dVals[i]} y={279} a="middle" s={9} c="#222">{v}</T>)}
      {D_CYTO.map((v, i) => <T key={'y' + i} x={dVals[i]} y={290} a="middle" s={9} c="#222">{v}</T>)}
      <T x={29} y={382} a="middle" r={-90} s={7} c="#222">Progression-free survival probability</T>
      <T x={167} y={472} a="middle" s={8} c="#222">Months</T>
      <T x={29} y={571} a="middle" r={-90} s={7} c="#222">Progression-free survival probability</T>
      <T x={213} y={521} s={8} c="#222"><i>P</i> = 0.00078</T>
      <T x={181} y={559} s={9} c="#ee4444">Groups 1–3</T>
      <T x={187} y={611} s={9} c="#2b3f48">Group 4</T>
      <T x={167} y={659} a="middle" s={8} c="#222">Months</T>
      <T x={57} y={675} s={8.5} c="#222">Number at risk of progression</T>
      <RiskTable box={{ l: 57, t: 683, r: 274, b: 719 }} rowY={[693, 710]} labels={['Groups 1–3', 'Group 4']} colors={['#ee4444', '#2b3f48']} rows={[D_RISK_G13, D_RISK_G4]} xs={dXs} size={8.5} />

      {/* E */}
      <T x={468} y={280} a="middle" s={7.5} c="#222">Riaz pretreatment melanoma</T>
      <T x={513} y={308} s={6.5} c="#222"><i>P</i> = 0.049</T>
      <T x={453} y={313} s={9} c="#f04a4a">Groups 1–3</T>
      <T x={432} y={380} s={9} c="#1e3842">Group 4</T>
      <T x={322} y={347} a="middle" r={-90} s={8} c="#222">Overall survival probability</T>
      <T x={458} y={423} a="middle" s={8.5} c="#222">Weeks</T>
      <T x={350} y={439} s={8} c="#222">Number at risk of death</T>
      <RiskTable box={{ l: 349, t: 448, r: 566, b: 483 }} rowY={[458, 473]} labels={['Groups 1–3', 'Group 4']} colors={['#f04a4a', '#1e3842']} rows={[E_RISK_G13, E_RISK_G4]} xs={eXs} size={8.5} />

      {/* F */}
      <T x={597} y={350} a="middle" r={-90} s={8.5} c="#222">Proportion of cells at d0</T>
      <T x={675} y={493} a="middle" s={8.8} c="#222">Phenotypic cluster</T>
      <T x={743} y={345} s={8.5} c="#222">Beta chain</T>
      <T x={743} y={353} s={8.5} c="#222">detected in</T>
      <T x={743} y={361} s={8.5} c="#222">melanoma</T>
      <Box x={743} y={367} w={9} h={9.5} bg="#0e4c8b" />
      <Box x={743} y={376.5} w={9} h={9.5} bg="#8c3b3b" />
      <T x={756} y={372} s={8.5} c="#222">No</T>
      <T x={756} y={381} s={8.5} c="#222">Yes</T>

      {/* G */}
      <T x={327} y={592} a="middle" r={-90} s={8.5} c="#222">Proportion of cells at d0</T>
      <T x={400} y={729} a="middle" s={9} c="#222">Beta chain detected</T>
      <T x={400} y={740} a="middle" s={9} c="#222">in melanoma</T>
      <T x={454} y={583} s={7.5} c="#222">Clone size</T>
      <T x={454} y={590} s={7.5} c="#222">as proportion</T>
      <T x={454} y={597} s={7.5} c="#222">of repertoire</T>
      {G_KEYS.map((k, i) => (
        <React.Fragment key={k}>
          <Box x={454} y={600 + i * 9.2} w={9} h={9.2} bg={gColors[i]} />
          <T x={465} y={604.6 + i * 9.2} s={7.5} c="#222">{k}</T>
        </React.Fragment>
      ))}

      {/* H */}
      <div style={{ position: 'absolute', left: 567, top: 519, width: 134, height: 9, background: '#000', color: '#fff', fontFamily: FF, fontSize: 8, lineHeight: '9px', textAlign: 'center' }}>ECs</div>
      <T x={547} y={603} a="middle" r={-90} s={8.3} c="#222">Cytotoxicity score per cell at d0</T>
      <T x={632} y={737} a="middle" s={8.5} c="#222">Beta chain detected in melanoma</T>
    </div>
  );
}
